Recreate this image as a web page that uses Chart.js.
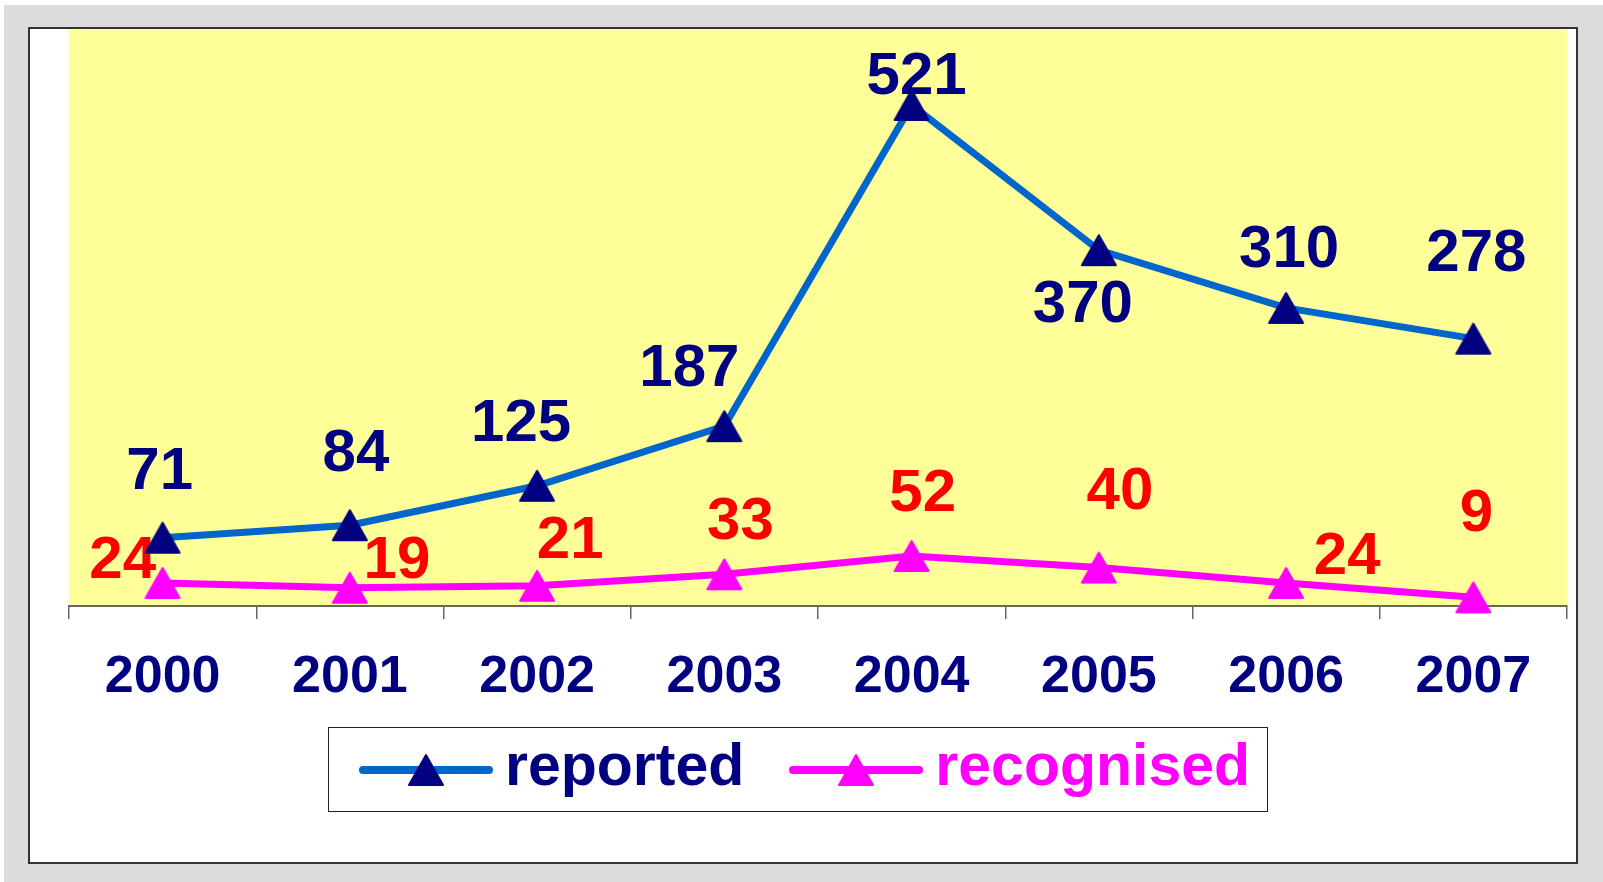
<!DOCTYPE html>
<html>
<head>
<meta charset="utf-8">
<script src="https://cdn.jsdelivr.net/npm/chart.js@4.4.1/dist/chart.umd.min.js"></script>
<style>
  html, body { margin: 0; padding: 0; width: 1603px; height: 882px; overflow: hidden; background: #fff;
    font-family: "Liberation Sans", Arial, sans-serif; }
  #frame { position: absolute; left: 4px; top: 5px; width: 1599px; height: 877px; background: #dcdcdc; }
  #box { position: absolute; left: 28px; top: 27px; width: 1546px; height: 833px; background: #fff;
    border: 2px solid #333; }
  #chart { position: absolute; left: 0; top: 0; }
  #legend { position: absolute; left: 298px; top: 698px; width: 940px; height: 85px; box-sizing: border-box;
    border: 1.5px solid #222; background: #fff; display: flex; align-items: center; padding-left: 30px; }
  #legend .legend-item { display: flex; align-items: center; margin-right: 45px; }
  #legend canvas { position: static; margin-right: 12px; }
  .legend-text { font-weight: bold; font-size: 59px; line-height: 1; position: relative; top: -4px; }
</style>
</head>
<body>
<div id="frame"></div>
<div id="box">
  <canvas id="chart" width="1546" height="833"></canvas>
  <div id="legend"></div>
</div>
<script>
// ── data ─────────────────────────────────────────────
const years      = ['2000', '2001', '2002', '2003', '2004', '2005', '2006', '2007'];
const reported   = [71, 84, 125, 187, 521, 370, 310, 278];
const recognised = [24, 19, 21, 33, 52, 40, 24, 9];
const yMin = 0, yMax = 600;

// hand-placed value labels (px offset from the point), like the original
const labelNudge = {
  reported:   [[-3, -65], [6, -71], [-16, -61], [-35, -57], [5, -28], [-16, 55], [3, -57], [3, -84]],
  recognised: [[-40, -21], [47, -26], [33, -44], [16, -52], [11, -62], [21, -75], [61, -25], [3, -83]]
};

const FONT = '"Liberation Sans", Arial, sans-serif';

// triangle marker, centred on its bounding box (Excel style)
function triangle(color) {
  const c = document.createElement('canvas');
  c.width = 38; c.height = 34;
  const g = c.getContext('2d');
  g.fillStyle = color; g.strokeStyle = color;
  g.lineWidth = 2; g.lineJoin = 'round';
  g.beginPath();
  g.moveTo(19, 2); g.lineTo(36, 32); g.lineTo(2, 32);
  g.closePath(); g.fill(); g.stroke();
  return c;
}

const plotBg = {
  id: 'plotBg',
  beforeDraw(chart) {
    const { ctx, chartArea: a } = chart;
    ctx.save();
    ctx.fillStyle = '#FFFF99';
    ctx.fillRect(a.left, a.top, a.right - a.left, a.bottom - a.top);
    ctx.restore();
  }
};

const valueLabels = {
  id: 'valueLabels',
  beforeDatasetsDraw(chart) {
    const ctx = chart.ctx;
    ctx.save();
    ctx.font = 'bold 60px ' + FONT;
    ctx.textAlign = 'center';
    ctx.textBaseline = 'middle';
    chart.data.datasets.forEach((ds, i) => {
      const nudge = labelNudge[ds.key];
      chart.getDatasetMeta(i).data.forEach((pt, j) => {
        ctx.fillStyle = ds.labelColor;
        ctx.fillText(String(ds.data[j]), pt.x + nudge[j][0], pt.y + nudge[j][1]);
      });
    });
    ctx.restore();
  }
};

const chart = new Chart(document.getElementById('chart'), {
  type: 'line',
  data: {
    labels: years,
    datasets: [
      { key: 'reported', label: 'reported', data: reported, borderColor: '#0066CC', borderWidth: 7,
        pointStyle: triangle('#000080'), pointRadius: 18, labelColor: '#000080', textColor: '#000080',
        tension: 0, fill: false, clip: false },
      { key: 'recognised', label: 'recognised', data: recognised, borderColor: '#FF00FF', borderWidth: 7,
        pointStyle: triangle('#FF00FF'), pointRadius: 18, labelColor: '#FF0000', textColor: '#FF00FF',
        tension: 0, fill: false, clip: false }
    ]
  },
  options: {
    responsive: false,
    animation: false,
    layout: { autoPadding: false, padding: { left: 39, right: 9, top: 0, bottom: 0 } },
    plugins: { legend: { display: false }, tooltip: { enabled: false } },
    scales: {
      y: { display: false, min: yMin, max: yMax },
      x: {
        offset: true,
        afterFit: s => { s.height = 256; },
        border: { display: true, color: '#666', width: 2 },
        grid: { display: true, offset: true, drawOnChartArea: false, drawTicks: true, tickLength: 13, color: '#666', lineWidth: 1.5 },
        ticks: { color: '#000080', padding: 27, font: { family: FONT, size: 52, weight: 'bold' } }
      }
    }
  },
  plugins: [plotBg, valueLabels]
});

// ── legend (line sample with marker, like the original) ──
const legend = document.getElementById('legend');
chart.data.datasets.forEach(ds => {
  const item = document.createElement('div');
  item.className = 'legend-item';
  const s = document.createElement('canvas');
  s.width = 134; s.height = 40;
  const g = s.getContext('2d');
  g.strokeStyle = ds.borderColor; g.lineWidth = 8; g.lineCap = 'round';
  g.beginPath(); g.moveTo(4, 20); g.lineTo(130, 20); g.stroke();
  g.drawImage(ds.pointStyle, 67 - 19, 20 - 17);
  const t = document.createElement('span');
  t.className = 'legend-text';
  t.style.color = ds.textColor;
  t.textContent = ds.label;
  item.appendChild(s); item.appendChild(t);
  legend.appendChild(item);
});
</script>
</body>
</html>
